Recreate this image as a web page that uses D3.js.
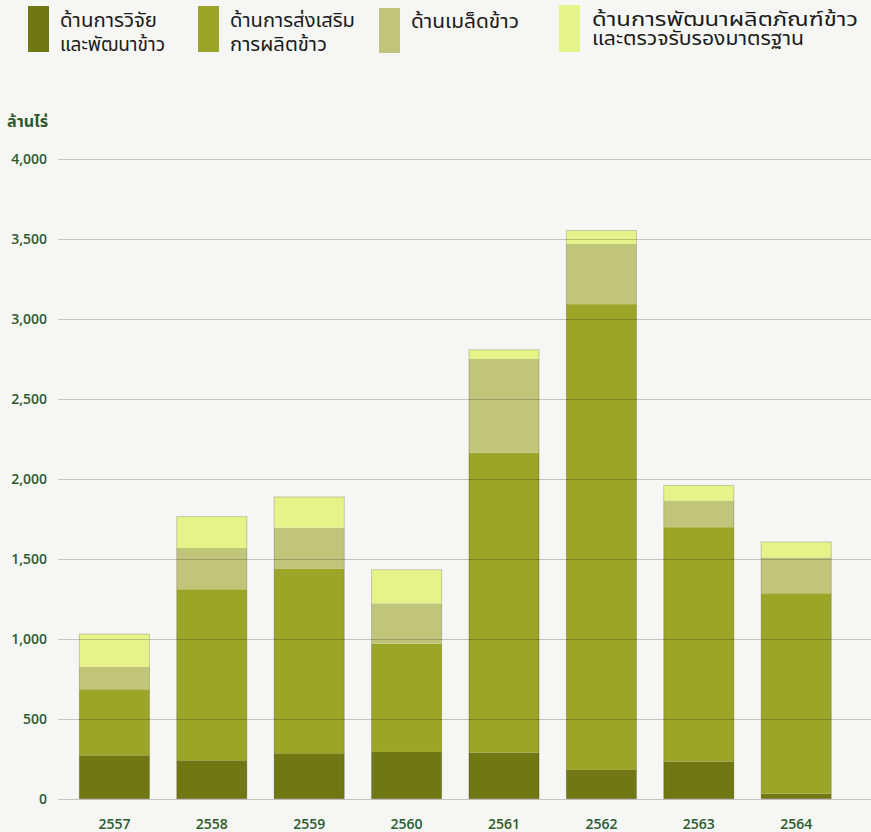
<!DOCTYPE html>
<html>
<head>
<meta charset="utf-8">
<script src="https://cdn.jsdelivr.net/npm/d3@7"></script>
<style>
  html, body { margin: 0; padding: 0; background: #f6f6f4; }
  svg { display: block; }
</style>
</head>
<body>
<svg id="chart" width="871" height="832"></svg>
<script>
const years = ["2557","2558","2559","2560","2561","2562","2563","2564"];
const research = [271, 240, 284, 292, 289, 180, 233, 32];
const promotion = [413, 1069, 1152, 677, 1873, 2911, 1464, 1252];
const seed = [141, 258, 258, 252, 588, 377, 166, 224];
const product = [204, 196, 192, 210, 56, 83, 95, 97];
const yTicks = [0, 500, 1000, 1500, 2000, 2500, 3000, 3500, 4000];
const seriesNames = [
  ["ด้านการวิจัย", "และพัฒนาข้าว"],
  ["ด้านการส่งเสริม", "การผลิตข้าว"],
  ["ด้านเมล็ดข้าว"],
  ["ด้านการพัฒนาผลิตภัณฑ์ข้าว", "และตรวจรับรองมาตรฐาน"]
];
const yLabel = "ล้านไร่";
const colors = ["#707814", "#9ba628", "#c0c679", "#e6f389"];

const svg = d3.select("#chart");
const W = 871, H = 832;
const thaiFont = "'Noto Sans Thai','Noto Sans','DejaVu Sans',sans-serif";
const numFont = "'Open Sans','DejaVu Sans',sans-serif";
const green = "#2b5a2e";

const keys = ["research","promotion","seed","product"];
const table = years.map((y, i) => ({
  year: y, research: research[i], promotion: promotion[i], seed: seed[i], product: product[i]
}));
const stacked = d3.stack().keys(keys)(table);
const total = d => d.research + d.promotion + d.seed + d.product;

const x = d3.scaleBand().domain(years).range([65.7, 844.9]).paddingInner(0.28).paddingOuter(0.14);
const y = d3.scaleLinear().domain([0, 4000]).range([798.7, 158.7]);

// bars
const g = svg.append("g");
stacked.forEach((layer, li) => {
  g.selectAll(null).data(layer).enter().append("rect")
    .attr("x", d => x(d.data.year))
    .attr("width", x.bandwidth())
    .attr("y", d => y(d[1]))
    .attr("height", d => y(d[0]) - y(d[1]))
    .attr("fill", colors[li]);
});
// bar outline
g.selectAll(null).data(table).enter().append("rect")
  .attr("x", d => x(d.year))
  .attr("width", x.bandwidth())
  .attr("y", d => y(total(d)))
  .attr("height", d => y(0) - y(total(d)))
  .attr("fill", "none")
  .attr("stroke", "rgba(0,0,0,0.18)")
  .attr("stroke-width", 1);

// y axis labels
const yAxis = d3.axisLeft(y).tickValues(yTicks).tickSize(0).tickPadding(0)
  .tickFormat(d3.format(","));
const ga = svg.append("g").attr("transform", "translate(47,0)").call(yAxis);
ga.select(".domain").remove();
ga.selectAll("text")
  .attr("fill", green)
  .style("font-family", numFont)
  .style("font-size", "14px")
  .style("font-weight", "600")
  .attr("dy", "0.35em");

// grid on top of bars
svg.append("g").selectAll("line").data(yTicks).enter().append("line")
  .attr("x1", 58).attr("x2", W)
  .attr("y1", d => Math.round(y(d)) + 0.5).attr("y2", d => Math.round(y(d)) + 0.5)
  .attr("stroke", "rgba(0,0,0,0.2)")
  .attr("stroke-width", 1);

// x axis labels
const xAxis = d3.axisBottom(x).tickSize(0).tickPadding(0);
const gx = svg.append("g").attr("transform", "translate(0,816)").call(xAxis);
gx.select(".domain").remove();
gx.selectAll("text")
  .attr("fill", green)
  .attr("dy", "0.9em")
  .style("font-family", numFont)
  .style("font-size", "14px")
  .style("font-weight", "600");

// y label
svg.append("text").attr("x", 7).attr("y", 127).text(yLabel)
  .attr("fill", green)
  .attr("textLength", 41).attr("lengthAdjust", "spacingAndGlyphs")
  .style("font-family", thaiFont)
  .style("font-size", "16px")
  .style("font-weight", "700");

// legend
const legendPos = [
  {sx: 28, sy: 6, sh: 46, tx: 60, ty: [27, 51], w: [97, 105]},
  {sx: 198, sy: 6, sh: 46, tx: 230, ty: [27, 51], w: [125, 97]},
  {sx: 379, sy: 8, sh: 45, tx: 411, ty: [28], w: [108]},
  {sx: 559, sy: 5, sh: 47, tx: 592, ty: [26, 45], w: [266, 212]}
];
const lg = svg.append("g");
seriesNames.forEach((lines, i) => {
  const p = legendPos[i];
  lg.append("rect").attr("x", p.sx).attr("y", p.sy).attr("width", 21).attr("height", p.sh)
    .attr("fill", colors[i]);
  lines.forEach((t, j) => {
    lg.append("text").attr("x", p.tx).attr("y", p.ty[j]).text(t)
      .attr("fill", "#1a1a1a")
      .attr("textLength", p.w[j]).attr("lengthAdjust", "spacingAndGlyphs")
      .style("font-family", thaiFont)
      .style("font-size", "19px");
  });
});
</script>
</body>
</html>
